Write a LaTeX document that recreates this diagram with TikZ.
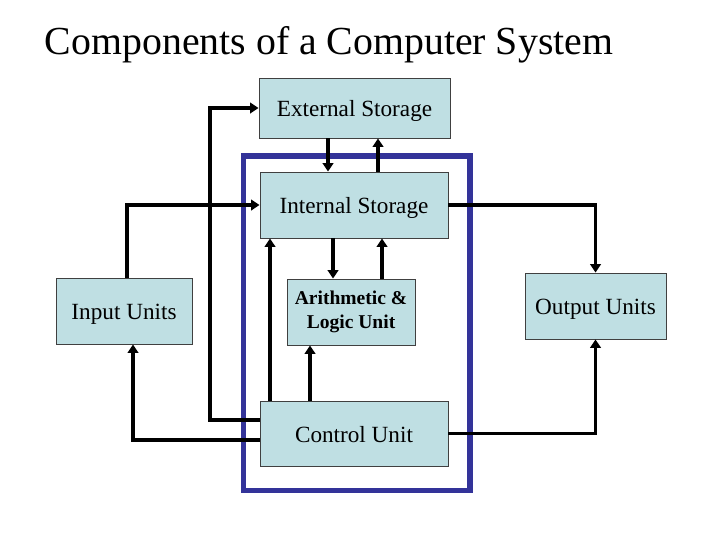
\documentclass[tikz,border=0pt]{standalone}
\usepackage{fontspec}
\setmainfont{Liberation Serif}
\usetikzlibrary{arrows.meta}
\definecolor{unitfill}{RGB}{191,223,227}
\definecolor{cpublue}{RGB}{51,51,153}
\tikzstyle{unit} = [rectangle, 
inner sep=0pt, 
text centered, 
draw=black!75, 
line width=0.6pt, 
fill=unitfill, 
font=\fontsize{16.5}{19}\selectfont]
\tikzstyle{oneline} = [text height=12.3pt, text depth=0pt]
\tikzstyle{arrow} = [line width=2.6pt, -{Triangle[length=6pt,width=7.5pt]}]
\begin{document}
\begin{tikzpicture}[x=0.025cm, y=-0.025cm]
  \useasboundingbox (0,0) rectangle (720,540);
  \node (title) [anchor=base west, font=\fontsize{28.3}{32}\selectfont] at (40,54) {Components of a Computer System};
  % the CPU frame
  \draw [cpublue, line width=3.6pt] (243.5,156) rectangle (470,490.5);
  \node (ext) [unit, oneline, minimum width=4.775cm, minimum height=1.5cm] at (354.5,108) {External Storage};
  \node (int) [unit, oneline, minimum width=4.7cm, minimum height=1.65cm] at (354,205) {Internal Storage};
  \node (alu) [unit, minimum width=3.2cm, minimum height=1.65cm, align=center, 
    font=\bfseries\fontsize{13.9}{17}\selectfont] at (351,312) {Arithmetic \&\\ Logic Unit};
  \node (ctrl) [unit, oneline, minimum width=4.7cm, minimum height=1.625cm] at (354,433.5) {Control Unit};
  \node (inp) [unit, oneline, minimum width=3.4cm, minimum height=1.65cm] at (124,311) {Input Units};
  \node (out) [unit, oneline, minimum width=3.525cm, minimum height=1.65cm] at (595.5,306) {Output Units};

  \draw [arrow] (328,0 |- ext.south) -- (328,0 |- int.north);
  \draw [arrow] (378,0 |- int.north) -- (378,0 |- ext.south);
  \draw [arrow] (333,0 |- int.south) -- (333,0 |- alu.north);
  \draw [arrow] (382,0 |- alu.north) -- (382,0 |- int.south);
  \draw [arrow] (310,0 |- ctrl.north) -- (310,0 |- alu.south);
  \draw [arrow] (270,0 |- ctrl.north) -- (270,0 |- int.south);
  \draw [arrow] (ctrl.west |- 0,420) -- (210,420) |- (ext.west);
  \draw [arrow] (ctrl.west |- 0,440) -| (133,0 |- inp.south);
  \draw [arrow] (127,0 |- inp.north) |- (int.west);
  \draw [arrow] (int.east) -| (out.north);
  \draw [arrow] (ctrl.east) -| (out.south);
\end{tikzpicture}
\end{document}
